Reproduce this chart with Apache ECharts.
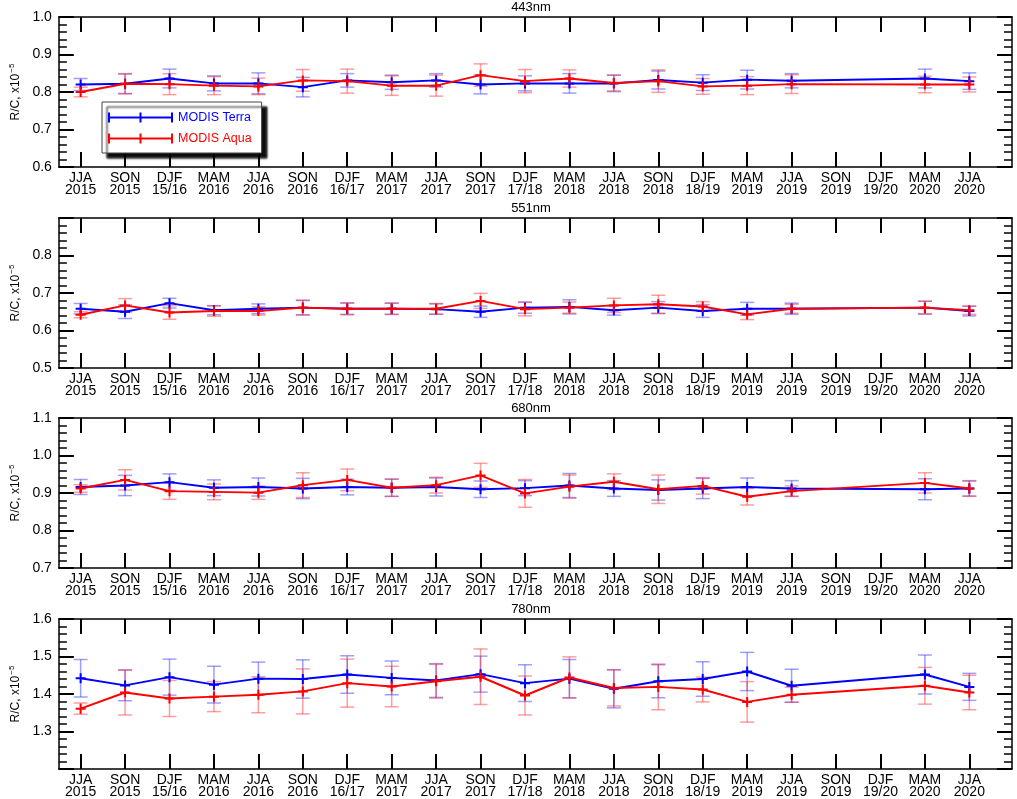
<!DOCTYPE html>
<html>
<head>
<meta charset="utf-8">
<script src="https://cdn.jsdelivr.net/npm/echarts@6/dist/echarts.min.js"></script>
<style>
html,body{margin:0;padding:0;background:#fff;}
#chart{width:1017px;height:799px;}
</style>
</head>
<body>
<div id="chart"></div>
<script>
// ---- data ----
const categories = ['JJA\n2015','SON\n2015','DJF\n15/16','MAM\n2016','JJA\n2016','SON\n2016','DJF\n16/17','MAM\n2017','JJA\n2017','SON\n2017','DJF\n17/18','MAM\n2018','JJA\n2018','SON\n2018','DJF\n18/19','MAM\n2019','JJA\n2019','SON\n2019','DJF\n19/20','MAM\n2020','JJA\n2020'];
const panelTitles = ['443nm','551nm','680nm','780nm'];
const yMin = [0.6, 0.5, 0.7, 1.2];
const yMax = [1.0, 0.9, 1.1, 1.6];
const seriesNames = ['MODIS Terra','MODIS Aqua'];

const terra443 = [0.820,0.822,0.836,0.823,0.823,0.813,0.831,0.826,0.831,0.820,0.823,0.823,0.823,0.832,0.825,0.833,0.830,null,null,0.836,0.829];
const terra443Err = [0.016,0.026,0.025,0.020,0.028,0.026,0.018,0.019,0.018,0.025,0.020,0.026,0.022,0.024,0.021,0.025,0.019,null,null,0.025,0.022];
const aqua443 = [0.800,0.822,0.821,0.817,0.815,0.831,0.829,0.817,0.817,0.845,0.829,0.836,0.824,0.829,0.815,0.817,0.821,null,null,0.820,0.820];
const aqua443Err = [0.013,0.027,0.028,0.024,0.022,0.029,0.032,0.026,0.028,0.030,0.031,0.023,0.021,0.030,0.021,0.024,0.025,null,null,0.022,0.020];

const terra551 = [0.658,0.650,0.673,0.654,0.658,0.661,0.658,0.658,0.657,0.650,0.661,0.663,0.654,0.661,0.652,0.658,0.658,null,null,0.661,0.652];
const terra551Err = [0.014,0.018,0.013,0.012,0.013,0.019,0.015,0.015,0.014,0.015,0.015,0.019,0.013,0.016,0.017,0.017,0.015,null,null,0.017,0.013];
const aqua551 = [0.642,0.667,0.648,0.652,0.652,0.661,0.658,0.658,0.658,0.679,0.657,0.661,0.667,0.670,0.664,0.643,0.658,null,null,0.661,0.654];
const aqua551Err = [0.008,0.018,0.018,0.014,0.011,0.020,0.016,0.015,0.014,0.020,0.018,0.015,0.019,0.024,0.013,0.014,0.012,null,null,0.017,0.011];

const terra680 = [0.916,0.920,0.929,0.914,0.916,0.912,0.916,0.914,0.916,0.910,0.913,0.920,0.912,0.908,0.912,0.916,0.912,null,null,0.910,0.912];
const terra680Err = [0.020,0.027,0.022,0.021,0.024,0.027,0.021,0.023,0.024,0.022,0.020,0.032,0.021,0.027,0.027,0.024,0.021,null,null,0.028,0.020];
const aqua680 = [0.912,0.935,0.905,0.903,0.901,0.921,0.935,0.914,0.921,0.947,0.899,0.917,0.930,0.910,0.919,0.890,0.905,null,null,0.927,0.912];
const aqua680Err = [0.010,0.027,0.022,0.021,0.018,0.033,0.029,0.023,0.021,0.032,0.037,0.031,0.021,0.038,0.022,0.022,0.014,null,null,0.027,0.021];

const terra780 = [1.442,1.423,1.445,1.425,1.441,1.440,1.452,1.443,1.436,1.453,1.429,1.441,1.414,1.434,1.440,1.460,1.422,null,null,1.452,1.419];
const terra780Err = [0.050,0.041,0.048,0.049,0.044,0.051,0.050,0.045,0.045,0.048,0.049,0.051,0.051,0.044,0.046,0.051,0.044,null,null,0.052,0.036];
const aqua780 = [1.361,1.404,1.388,1.393,1.398,1.407,1.429,1.420,1.434,1.446,1.396,1.444,1.416,1.419,1.412,1.379,1.398,null,null,1.422,1.404];
const aqua780Err = [0.015,0.060,0.048,0.040,0.048,0.060,0.064,0.054,0.045,0.074,0.052,0.055,0.048,0.061,0.033,0.054,0.020,null,null,0.049,0.046];

const terraAll = [terra443, terra551, terra680, terra780];
const terraErrAll = [terra443Err, terra551Err, terra680Err, terra780Err];
const aquaAll = [aqua443, aqua551, aqua680, aqua780];
const aquaErrAll = [aqua443Err, aqua551Err, aqua680Err, aqua780Err];

// ---- styling / layout ----
const FONT = '"Liberation Sans", Arial, Helvetica, sans-serif';
const gridTops = [17, 218, 418, 619];
const gridH = 150;
const plusPath = 'path://M-1,-5L1,-5L1,-1L5,-1L5,1L1,1L1,5L-1,5L-1,1L-5,1L-5,-1L-1,-1Z';
const legendIconPath = 'path://M0,4H65V6H0Z M0,0H2V10H0Z M31.5,0H33.5V10H31.5Z M63,0H65V10H63Z';
const lineColors = ['#0000ff', '#ff0000'];
const errColors = ['rgba(40,40,255,0.45)', 'rgba(255,40,40,0.45)'];
const idx = categories.map((c, i) => i);

const chart = echarts.init(document.getElementById('chart'), null, {renderer: 'canvas'});

const grids = [], xAxes = [], yAxes = [], titles = [], series = [];

function errRender(color) {
  return function (params, api) {
    const x = api.value(0), lo = api.value(1), hi = api.value(2);
    const a = api.coord([x, lo]), b = api.coord([x, hi]);
    const hw = 7;
    const st = {stroke: color, lineWidth: 1.5, fill: null};
    return {
      type: 'group',
      children: [
        {type: 'line', shape: {x1: a[0], y1: a[1], x2: b[0], y2: b[1]}, style: st},
        {type: 'line', shape: {x1: a[0] - hw, y1: a[1], x2: a[0] + hw, y2: a[1]}, style: st},
        {type: 'line', shape: {x1: b[0] - hw, y1: b[1], x2: b[0] + hw, y2: b[1]}, style: st}
      ]
    };
  };
}

for (let p = 0; p < 4; p++) {
  grids.push({left: 50, right: 5, top: gridTops[p], height: gridH, containLabel: false});
  const baseX = {
    gridIndex: p, type: 'value', min: -0.49, max: 20.96,
    axisLine: {show: true, onZero: false, lineStyle: {color: '#000', width: 1.5}},
    axisTick: {show: true, inside: true, length: 15, customValues: idx, lineStyle: {color: '#000', width: 2}},
    splitLine: {show: false}
  };
  xAxes.push(Object.assign({}, baseX, {
    position: 'bottom',
    axisLabel: {show: true, customValues: idx, formatter: v => categories[Math.round(v)] || '',
      fontSize: 14, lineHeight: 12, color: '#000', margin: 5, fontFamily: FONT}
  }));
  xAxes.push(Object.assign({}, baseX, {position: 'top', axisLabel: {show: false}}));

  const baseY = {
    gridIndex: p, type: 'value', min: yMin[p], max: yMax[p], interval: 0.1,
    axisLine: {show: true, onZero: false, lineStyle: {color: '#000', width: 1.5}},
    axisTick: {show: true, inside: true, length: 15, lineStyle: {color: '#000', width: 2}},
    minorTick: {show: true, splitNumber: 5, length: 8, lineStyle: {color: '#000', width: 1.5}},
    splitLine: {show: false}, minorSplitLine: {show: false}
  };
  yAxes.push(Object.assign({}, baseY, {
    position: 'left',
    name: 'R/C, x10{sup|−5}', nameLocation: 'middle', nameGap: 33, nameRotate: 90,
    nameTextStyle: {fontSize: 12, color: '#000', fontFamily: FONT,
      rich: {sup: {fontSize: 8, color: '#000', fontFamily: FONT, padding: [0, 0, 7, 1]}}},
    axisLabel: {show: true, formatter: v => v.toFixed(1), fontSize: 14, color: '#000', margin: 7, fontFamily: FONT,
      showMinLabel: p !== 3, showMaxLabel: p !== 1}
  }));
  yAxes.push(Object.assign({}, baseY, {position: 'right', axisLabel: {show: false}}));

  titles.push({text: panelTitles[p], left: 531, top: gridTops[p] - 16, textAlign: 'center', padding: 0,
    textStyle: {fontSize: 13, fontWeight: 'normal', color: '#000', fontFamily: FONT}});

  const vals = [terraAll[p], aquaAll[p]];
  const errs = [terraErrAll[p], aquaErrAll[p]];
  for (let s = 0; s < 2; s++) {
    const v = vals[s], e = errs[s];
    series.push({
      type: 'custom', name: seriesNames[s] + ' error', xAxisIndex: 2 * p, yAxisIndex: 2 * p,
      renderItem: errRender(errColors[s]), silent: true, z: 2,
      encode: {x: 0, y: [1, 2]},
      data: v.map((y, i) => y == null ? null : [i, y - e[i], y + e[i]]).filter(d => d)
    });
  }
  for (let s = 0; s < 2; s++) {
    const v = vals[s];
    series.push({
      type: 'line', name: seriesNames[s], xAxisIndex: 2 * p, yAxisIndex: 2 * p,
      data: v.map((y, i) => y == null ? null : [i, y]).filter(d => d),
      color: lineColors[s],
      lineStyle: {color: lineColors[s], width: 2},
      itemStyle: {color: lineColors[s]},
      symbol: plusPath, symbolSize: 10, showSymbol: true, showAllSymbol: true,
      connectNulls: true, animation: false, z: 3 + s
    });
  }
}

const option = {
  backgroundColor: '#fff',
  animation: false,
  title: titles,
  grid: grids,
  xAxis: xAxes,
  yAxis: yAxes,
  legend: {
    left: 102, top: 102, orient: 'vertical', selectedMode: false,
    padding: [9, 10, 8, 6], itemGap: 8, itemWidth: 65, itemHeight: 10,
    backgroundColor: '#fff', borderColor: '#444', borderWidth: 1, borderRadius: 0,
    shadowColor: 'rgba(0,0,0,0.95)', shadowBlur: 2, shadowOffsetX: 5, shadowOffsetY: 5,
    textStyle: {fontSize: 12.5, fontFamily: FONT},
    data: [
      {name: 'MODIS Terra', icon: legendIconPath, textStyle: {color: '#0000ff'}},
      {name: 'MODIS Aqua', icon: legendIconPath, textStyle: {color: '#ff0000'}}
    ]
  },
  series: series
};
chart.setOption(option);
</script>
</body>
</html>
